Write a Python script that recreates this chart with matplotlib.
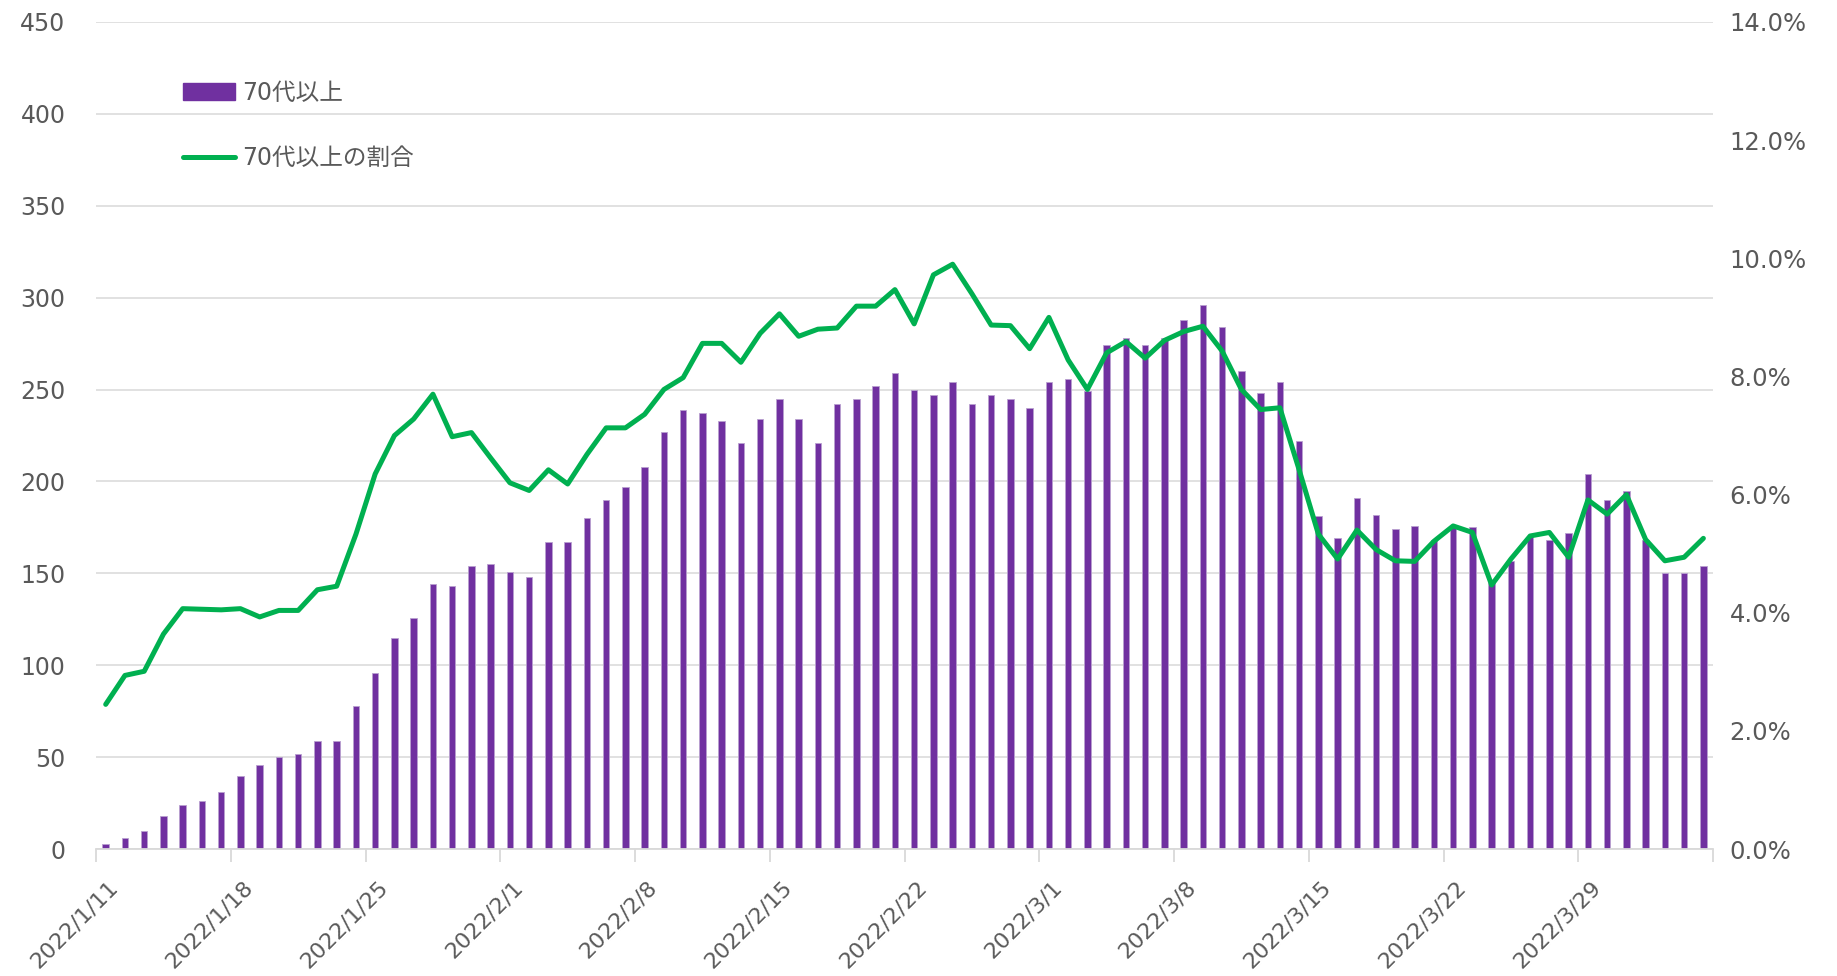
import numpy as np
import pandas as pd
import matplotlib
matplotlib.use('Agg')
import matplotlib.pyplot as plt
import matplotlib.transforms as mtransforms
from matplotlib.patches import Patch
from matplotlib.lines import Line2D

# daily data, 2022/1/11 - 2022/4/4
dates = pd.date_range('2022-01-11', periods=84, freq='D')

count_70plus = [
    3, 6, 10, 18, 24, 26, 31, 40, 46, 50, 52, 59, 59, 78, 96,
    115, 126, 144, 143, 154, 155, 151, 148, 167, 167, 180, 190, 197, 208,
    227, 239, 237, 233, 221, 234, 245, 234, 221, 242, 245, 252, 259, 250, 247,
    254, 242, 247, 245, 240, 254, 256, 249, 274, 278, 274, 278, 288, 296, 284,
    260, 248, 254, 222, 181, 169, 191, 182, 174, 176, 168, 176, 175,
    145, 157, 170, 168, 172, 204, 190, 195, 168, 150, 150, 154,
]

# share of 70+ (%)
share_70plus = [
    2.45, 2.94, 3.01, 3.64, 4.07, 4.06, 4.05, 4.07, 3.93, 4.04, 4.04, 4.39, 4.45, 5.33, 6.35,
    7.00, 7.28, 7.70, 6.98, 7.05, 6.62, 6.20, 6.07, 6.42, 6.18, 6.68, 7.13, 7.13, 7.36,
    7.78, 7.98, 8.56, 8.56, 8.24, 8.73, 9.06, 8.68, 8.80, 8.82, 9.19, 9.19, 9.47, 8.89, 9.72,
    9.90, 9.40, 8.87, 8.86, 8.47, 9.00, 8.28, 7.78, 8.40, 8.59, 8.31, 8.61, 8.76, 8.85, 8.43,
    7.78, 7.44, 7.47, 6.42, 5.33, 4.91, 5.40, 5.07, 4.88, 4.87, 5.21, 5.47, 5.36,
    4.47, 4.91, 5.30, 5.36, 4.94, 5.91, 5.67, 6.00, 5.24, 4.88, 4.94, 5.26,
]

bar_label = '70代以上'
line_label = '70代以上の割合'

purple = '#7030A0'
green = '#00B050'
gray_text = '#595959'
grid_col = '#D9D9D9'

fig = plt.figure(figsize=(18.37, 9.76), dpi=100)
ax = fig.add_axes([0.0523, 0.130, 0.8802, 0.8475])
ax2 = ax.twinx()

x = np.arange(len(dates))
xc = x + 0.5

ax.bar(xc, count_70plus, width=0.34, color=purple, edgecolor='#B9A0D0', linewidth=0.6, zorder=2)
ax2.plot(xc, np.array(share_70plus) / 100, color=green, lw=3.6, solid_joinstyle='round',
         solid_capstyle='round', zorder=3)

ax.set_xlim(0, len(dates))
ax.set_ylim(0, 450)
ax.set_yticks(np.arange(0, 451, 50))
ax2.set_ylim(0, 0.14)
ax2.set_yticks(np.arange(0, 0.141, 0.02))
ax2.set_yticklabels([f'{v*100:.1f}%' for v in np.arange(0, 0.141, 0.02)])

ax.grid(axis='y', color=grid_col, lw=1.1, zorder=0)
ax.set_axisbelow(True)

for a in (ax, ax2):
    for s in ('left', 'right', 'top'):
        a.spines[s].set_visible(False)
ax.spines['bottom'].set_color(grid_col)
ax.spines['bottom'].set_linewidth(1.3)
ax2.spines['bottom'].set_visible(False)

tick_pos = list(range(0, len(dates), 7)) + [len(dates)]
tick_lab = [f'{d.year}/{d.month}/{d.day}' for d in dates[::7]] + ['']
ax.set_xticks(tick_pos)
ax.set_xticklabels(tick_lab, rotation=45, ha='right', va='top', rotation_mode='anchor',
                   fontsize=16, color=gray_text, family='DejaVu Sans')
ax.tick_params(axis='x', length=9, width=1.3, color=grid_col, pad=11)
ax.tick_params(axis='y', length=0, pad=22, labelsize=17, labelcolor=gray_text)
ax2.tick_params(axis='y', length=0, pad=12, labelsize=17.5, labelcolor=gray_text)

# date labels sit a little to the right of their tick in the original
shift = mtransforms.ScaledTranslation(0.12, 0, fig.dpi_scale_trans)
for lab in ax.get_xticklabels():
    lab.set_transform(lab.get_transform() + shift)

handles = [Patch(facecolor=purple, edgecolor=purple),
           Line2D([0], [0], color=green, lw=3.6, solid_capstyle='round')]
leg = ax2.legend(handles, [bar_label, line_label], loc='upper left',
                 bbox_to_anchor=(0.0466, 0.943), frameon=False, borderpad=0,
                 handlelength=2.2, handleheight=0.75, handletextpad=0.3, labelspacing=1.75,
                 prop={'family': ['DejaVu Sans', 'Noto Sans CJK JP'], 'size': 17})
for t in leg.get_texts():
    t.set_color(gray_text)

fig.savefig('out.png', dpi=100)
